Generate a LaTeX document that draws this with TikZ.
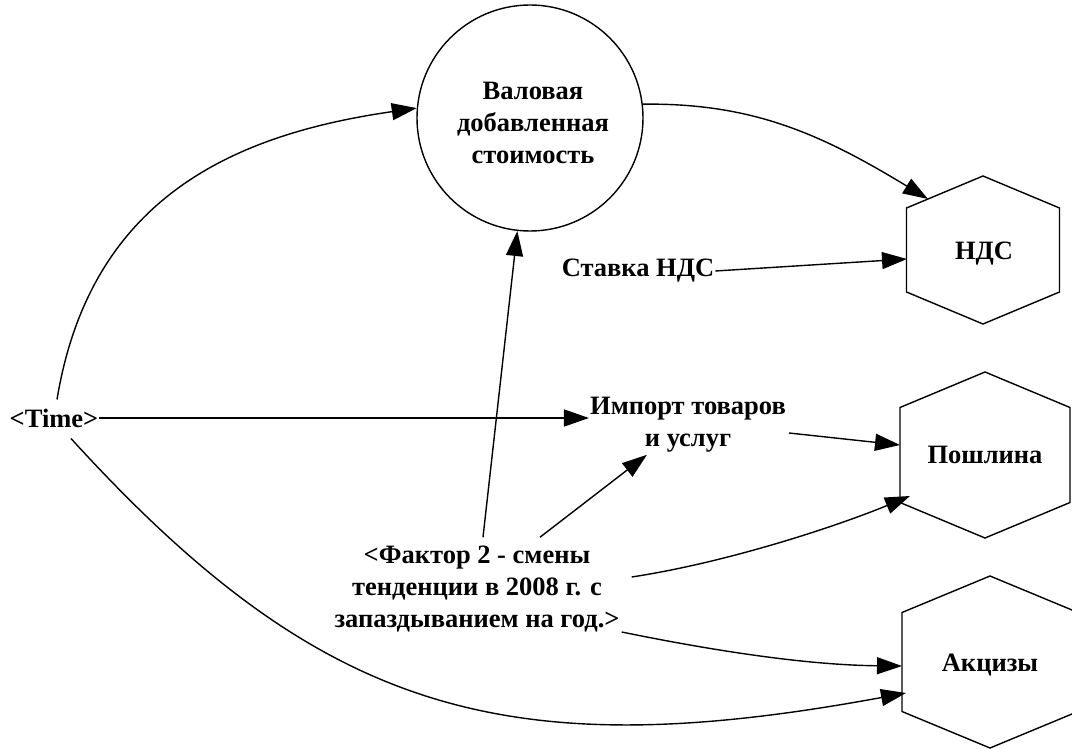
\documentclass[tikz,border=0pt]{standalone}
\usepackage{fontspec}
\setmainfont{Liberation Serif}
\usetikzlibrary{arrows.meta,calc}
\begin{document}
\begin{tikzpicture}[x=1pt,y=-1pt,
  lbl/.style={font=\fontsize{26.5}{32}\selectfont\bfseries, inner sep=1pt, align=center},
  arr/.style={draw=black, line width=1.4pt, -{Triangle[length=25pt,width=17pt]}},
  shapeline/.style={draw=black, line width=1.4pt, line join=miter},
]
\useasboundingbox (0,0) rectangle (1072,749);

% circle node
\node[shapeline, circle, minimum size=226pt, inner sep=0pt] (val) at (530,118) {};
\node[lbl] (valt) at (533,123) {Валовая\\добавленная\\стоимость};

% hexagons
\coordinate (nds) at (983,250);
\draw[shapeline] ($(nds)+(0,-74)$) -- ++(76.5,32) -- ++(0,84) -- ++(-76.5,32) -- ++(-76.5,-32) -- ++(0,-84) -- cycle;
\node[lbl, anchor=base] (ndst) at ($(nds)+(1,9.5)$) {НДС};

\coordinate (posh) at (985,455);
\draw[shapeline] ($(posh)+(0,-83)$) -- ++(85,35.5) -- ++(0,95) -- ++(-85,35.5) -- ++(-85,-35.5) -- ++(0,-95) -- cycle;
\node[lbl, anchor=base] (posht) at ($(posh)+(0,8.5)$) {Пошлина};

\coordinate (akc) at (990,662);
\draw[shapeline] ($(akc)+(0,-86)$) -- ++(88,36.5) -- ++(0,99) -- ++(-88,36.5) -- ++(-88,-36.5) -- ++(0,-99) -- cycle;
\node[lbl, anchor=base] (akct) at ($(akc)+(0,9)$) {Акцизы};

% text nodes
\node[lbl] (time) at (54,418) {<Time>};
\node[lbl] (stavka) at (638,271) {Ставка НДС};
\node[lbl] (imp) at (688,425) {Импорт товаров\\и услуг};
\node[lbl] (fak) at (477,589.5) {<Фактор 2 - смены\\тенденции в 2008 г. с\\запаздыванием на год.>};

% connector ends on hexagon borders
\coordinate (nds-in1) at ($(nds)+(-55,-51)$);
\coordinate (nds-in2) at ($(nds)+(-76,9)$);
\coordinate (posh-in1) at ($(posh)+(-85,-10)$);
\coordinate (posh-in2) at ($(posh)+(-75,41)$);
\coordinate (akc-in1) at ($(akc)+(-88,4)$);
\coordinate (akc-in2) at ($(akc)+(-84,31)$);

% connectors
\draw[arr] ($(time.north)+(3,-8)$) .. controls (90,200) and (230,135) .. (val.175);
\draw[arr] (time.east) -- (time.east -| imp.west);
\draw[arr] ($(time.south)+(17,10)$) .. controls (321,713) and (505,767) .. (akc-in2);
\draw[arr] (val.7) .. controls (750,103) and (818,132) .. (nds-in1);
\draw[arr] (stavka.east) -- (nds-in2);
\draw[arr] ($(fak.north)+(6,-8)$) -- (val);
\draw[arr] ($(fak.north)+(63,-8)$) -- ($(imp.south)+(-41,1)$);
\draw[arr] ($(imp.east)+(2,8)$) -- (posh-in1);
\draw[arr] ($(fak.east)+(11,-12.5)$) .. controls (730,562) and (840,525) .. (posh-in2);
\draw[arr] ($(fak.east)+(1,42.5)$) .. controls (700,648) and (800,665) .. (akc-in1);
\end{tikzpicture}
\end{document}
